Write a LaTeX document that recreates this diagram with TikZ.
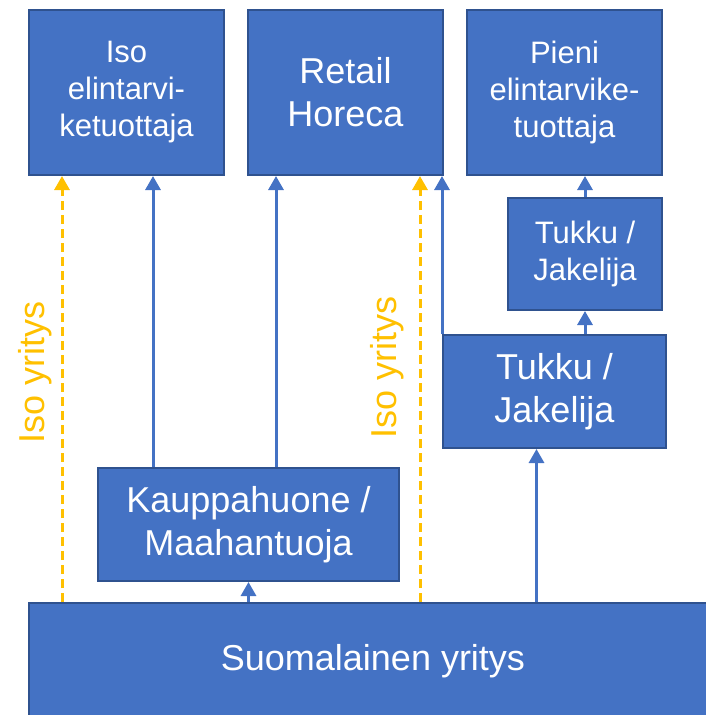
\documentclass[tikz,border=0pt]{standalone}
\usepackage{fontspec}
\setmainfont{Liberation Sans}
\usetikzlibrary{arrows.meta}
\definecolor{boxblue}{HTML}{4472C4}
\definecolor{boxedge}{HTML}{2F528F}
\definecolor{isoyellow}{HTML}{FFC000}
\tikzset{
	box/.style={draw=boxedge, fill=boxblue, line width=2pt, text=white, align=center, inner sep=0pt},
	bigtext/.style={font=\fontsize{36}{43}\selectfont},
	smalltext/.style={font=\fontsize{31}{37}\selectfont},
	arr/.style={draw=boxblue, line width=3pt, -{Triangle[width=15pt,length=14pt]}},
	isoarr/.style={draw=isoyellow, line width=3pt, dash pattern=on 9pt off 5pt, -{Triangle[width=15pt,length=14pt]}},
}
\begin{document}
\begin{tikzpicture}[x=1pt, y=-1pt]
	\clip (0,0) rectangle (706,715);
	\useasboundingbox (0,0) rectangle (706,715);
	% top row
	\node[box, smalltext, minimum width=195pt, minimum height=165pt] (iso) at (126.5,92.5) {Iso\\elintarvi-\\ketuottaja};
	\node[box, bigtext, minimum width=195pt, minimum height=165pt] (retail) at (345.5,92.5) {Retail\\Horeca};
	\node[box, smalltext, minimum width=195pt, minimum height=165pt] (pieni) at (564.5,92.5) {Pieni\\elintarvike-\\tuottaja};
	% wholesalers
	\node[box, smalltext, minimum width=154pt, minimum height=112pt] (tukkua) at (585,254) {Tukku /\\Jakelija};
	\node[box, bigtext, minimum width=223pt, minimum height=113pt] (tukkub) at (554.5,391.5) {Tukku /\\Jakelija};
	\node[box, bigtext, minimum width=301pt, minimum height=113pt] (kauppa) at (248.5,524.5) {Kauppahuone /\\Maahantuoja};
	\node[box, bigtext, minimum width=688pt, minimum height=116pt] (suomi) at (373,661) {Suomalainen yritys};
	% labels
	\node[rotate=90, text=isoyellow, bigtext] (lbla) at (35,372) {Iso yritys};
	\node[rotate=90, text=isoyellow, bigtext] (lblb) at (387,367) {Iso yritys};
	% connectors
	\draw[isoarr] ([xshift=34pt]suomi.north west) -- ([xshift=34pt]iso.south west);
	\draw[isoarr] ([xshift=-24pt]suomi.north -| retail.south east) -- ([xshift=-24pt]retail.south east);
	\draw[arr] ([xshift=56pt]kauppa.north west) -- ([xshift=56pt]kauppa.north west |- iso.south);
	\draw[arr] ([xshift=179pt]kauppa.north west) -- ([xshift=179pt]kauppa.north west |- retail.south);
	\draw[arr] (suomi.north -| kauppa.south) -- (kauppa.south);
	\draw[arr] (tukkub.north west) -- (tukkub.north west |- retail.south east);
	\draw[arr] ([xshift=-18pt]suomi.north -| tukkub.south) -- ([xshift=-18pt]tukkub.south);
	\draw[arr] (tukkub.north -| tukkua.south) -- (tukkua.south);
	\draw[arr] (tukkua.north) -- (tukkua.north |- pieni.south);
\end{tikzpicture}
\end{document}
